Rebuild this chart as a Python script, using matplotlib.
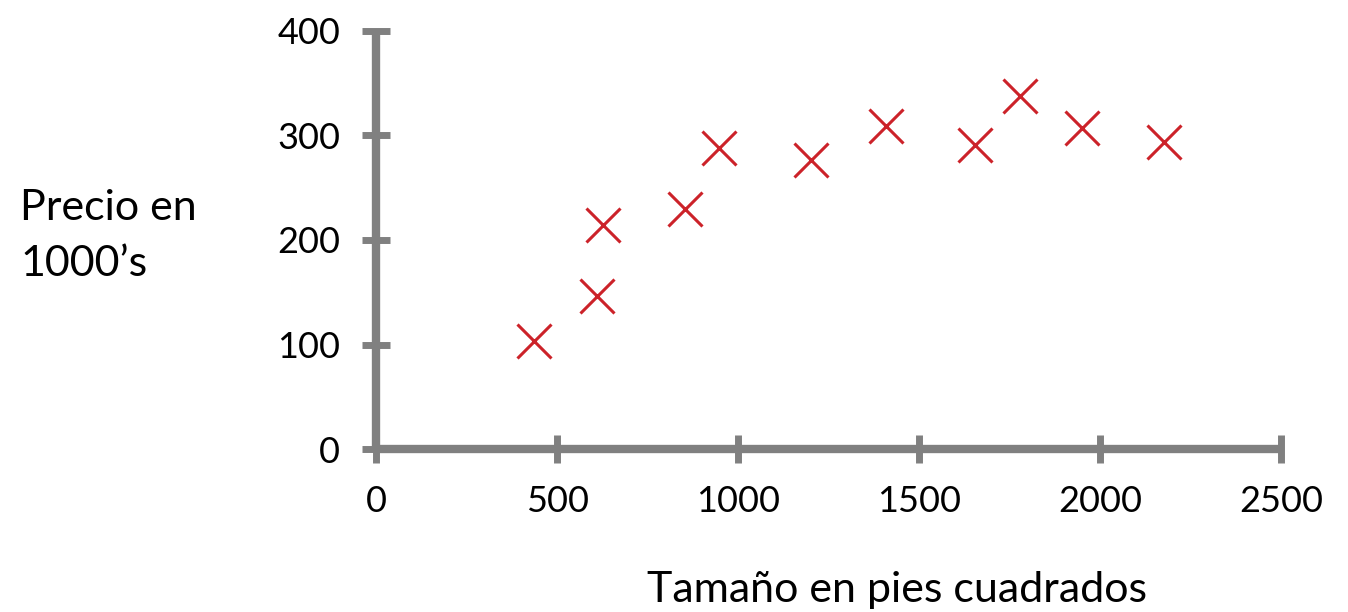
import matplotlib.pyplot as plt

# house size (sq ft) vs price (in 1000's)
size_sqft = [435, 610, 626, 854, 948, 1200, 1409, 1654, 1780, 1950, 2177]
price_k = [103, 146, 214, 230, 288, 276, 309, 291, 338, 307, 294]

x_ticks = [0, 500, 1000, 1500, 2000, 2500]
y_ticks = [0, 100, 200, 300, 400]

plt.rcParams['font.family'] = ['Lato', 'DejaVu Sans']

fig = plt.figure(figsize=(13.48, 6.12), dpi=100)
ax = fig.add_axes([0.2792, 0.2659, 0.6711, 0.684])

gray = '#808080'
ax.plot(size_sqft, price_k, linestyle='none', marker='x', markersize=25,
        markeredgewidth=2.2, color='#CC2229')

ax.set_xlim(0, 2500)
ax.set_ylim(0, 400)
ax.set_xticks(x_ticks)
ax.set_yticks(y_ticks)

for side in ['top', 'right']:
    ax.spines[side].set_visible(False)
for side in ['left', 'bottom']:
    ax.spines[side].set_color(gray)
    ax.spines[side].set_linewidth(6)
    ax.spines[side].set_capstyle('butt')

ax.tick_params(axis='both', direction='inout', length=20, width=5,
               color=gray, labelsize=26)
ax.tick_params(axis='y', pad=16)
ax.tick_params(axis='x', pad=16)

fig.text(20 / 1348, 1 - 236 / 612, 'Precio en\n1000\u2019s', fontsize=31,
         ha='left', va='center', linespacing=1.6)
fig.text(897 / 1348, 1 - 590 / 612, 'Tama\u00f1o en pies cuadrados',
         fontsize=31, ha='center', va='center')

for t in ax.get_xticklabels() + ax.get_yticklabels():
    t.set_clip_on(False)

fig.savefig('out.png', dpi=100)
